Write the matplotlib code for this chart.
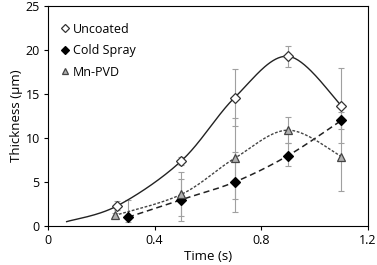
import numpy as np
import matplotlib
matplotlib.use('Agg')
import matplotlib.pyplot as plt

plt.rcParams['font.family'] = ['Open Sans', 'DejaVu Sans']

# data
time_unc = [0.26, 0.5, 0.7, 0.9, 1.1]
unc = [2.3, 7.4, 14.6, 19.3, 13.7]
unc_err = [0.5, 0.5, 3.2, 1.2, 4.3]

time_cs = [0.3, 0.5, 0.7, 0.9, 1.1]
cs = [1.0, 3.0, 5.0, 8.0, 12.0]
cs_err_lo = [0.5, 2.4, 3.4, 1.2, 1.0]
cs_err_hi = [2.0, 2.4, 3.4, 1.4, 1.0]

time_mn = [0.25, 0.5, 0.7, 0.9, 1.1]
mn = [1.2, 3.6, 7.7, 10.9, 7.9]
mn_err = [0.3, 2.5, 4.6, 1.5, 3.9]

# start of the uncoated trend curve
unc_curve_x = [0.07] + time_unc
unc_curve_y = [0.5] + unc


def smooth(xs, ys, n=40):
    # catmull-rom through the given points
    p = np.column_stack([xs, ys]).astype(float)
    p = np.vstack([p[0], p, p[-1]])
    out = []
    t = np.linspace(0, 1, n)[:, None]
    for i in range(1, len(p) - 2):
        p0, p1, p2, p3 = p[i - 1], p[i], p[i + 1], p[i + 2]
        seg = 0.5 * ((2 * p1) + (-p0 + p2) * t + (2 * p0 - 5 * p1 + 4 * p2 - p3) * t ** 2
                     + (-p0 + 3 * p1 - 3 * p2 + p3) * t ** 3)
        out.append(seg)
    out = np.vstack(out)
    return out[:, 0], out[:, 1]


fig = plt.figure(figsize=(3.77, 2.65), dpi=100)
ax = fig.add_axes([0.1273, 0.147, 0.976 - 0.1273, 0.977 - 0.147])

ecol = '#a0a0a0'
ax.errorbar(time_unc, unc, yerr=unc_err, fmt='none', ecolor=ecol, elinewidth=0.8, capsize=2, capthick=0.8)
ax.errorbar(time_cs, cs, yerr=[cs_err_lo, cs_err_hi], fmt='none', ecolor=ecol, elinewidth=0.8, capsize=2, capthick=0.8)
ax.errorbar(time_mn, mn, yerr=mn_err, fmt='none', ecolor=ecol, elinewidth=0.8, capsize=2, capthick=0.8)

x, y = smooth(unc_curve_x, unc_curve_y)
ax.plot(x, y, '-', color='#222222', lw=1.0)
x, y = smooth(time_cs, cs)
ax.plot(x, y, color='#222222', lw=1.1, dashes=(4, 2.5))
x, y = smooth(time_mn, mn)
ax.plot(x, y, color='#444444', lw=1.0, dashes=(2, 1.2))

ax.plot(time_unc, unc, 'D', ms=5.5, mfc='white', mec='#333333', mew=0.9, ls='none', label='Uncoated')
ax.plot(time_cs, cs, 'D', ms=5.5, mfc='black', mec='black', mew=0.9, ls='none', label='Cold Spray')
ax.plot(time_mn, mn, '^', ms=6, mfc='#b0b0b0', mec='#444444', mew=0.9, ls='none', label='Mn-PVD')

ax.set_xlim(0, 1.2)
ax.set_ylim(0, 25)
ax.set_xticks([0, 0.4, 0.8, 1.2])
ax.set_xticklabels(['0', '0.4', '0.8', '1.2'])
ax.set_yticks([0, 5, 10, 15, 20, 25])
ax.tick_params(direction='out', length=3, width=0.8, labelsize=9, pad=3)
for s in ax.spines.values():
    s.set_linewidth(0.8)
ax.set_xlabel('Time (s)', fontsize=9.5, labelpad=2)
ax.set_ylabel('Thickness (\u03bcm)', fontsize=9.5, labelpad=2)

ax.legend(loc='upper left', bbox_to_anchor=(0.005, 0.965), frameon=False, fontsize=9,
          handletextpad=0.15, labelspacing=0.68, borderaxespad=0.3, handlelength=1.0,
          markerscale=0.8)

fig.savefig('out.png', dpi=100)
